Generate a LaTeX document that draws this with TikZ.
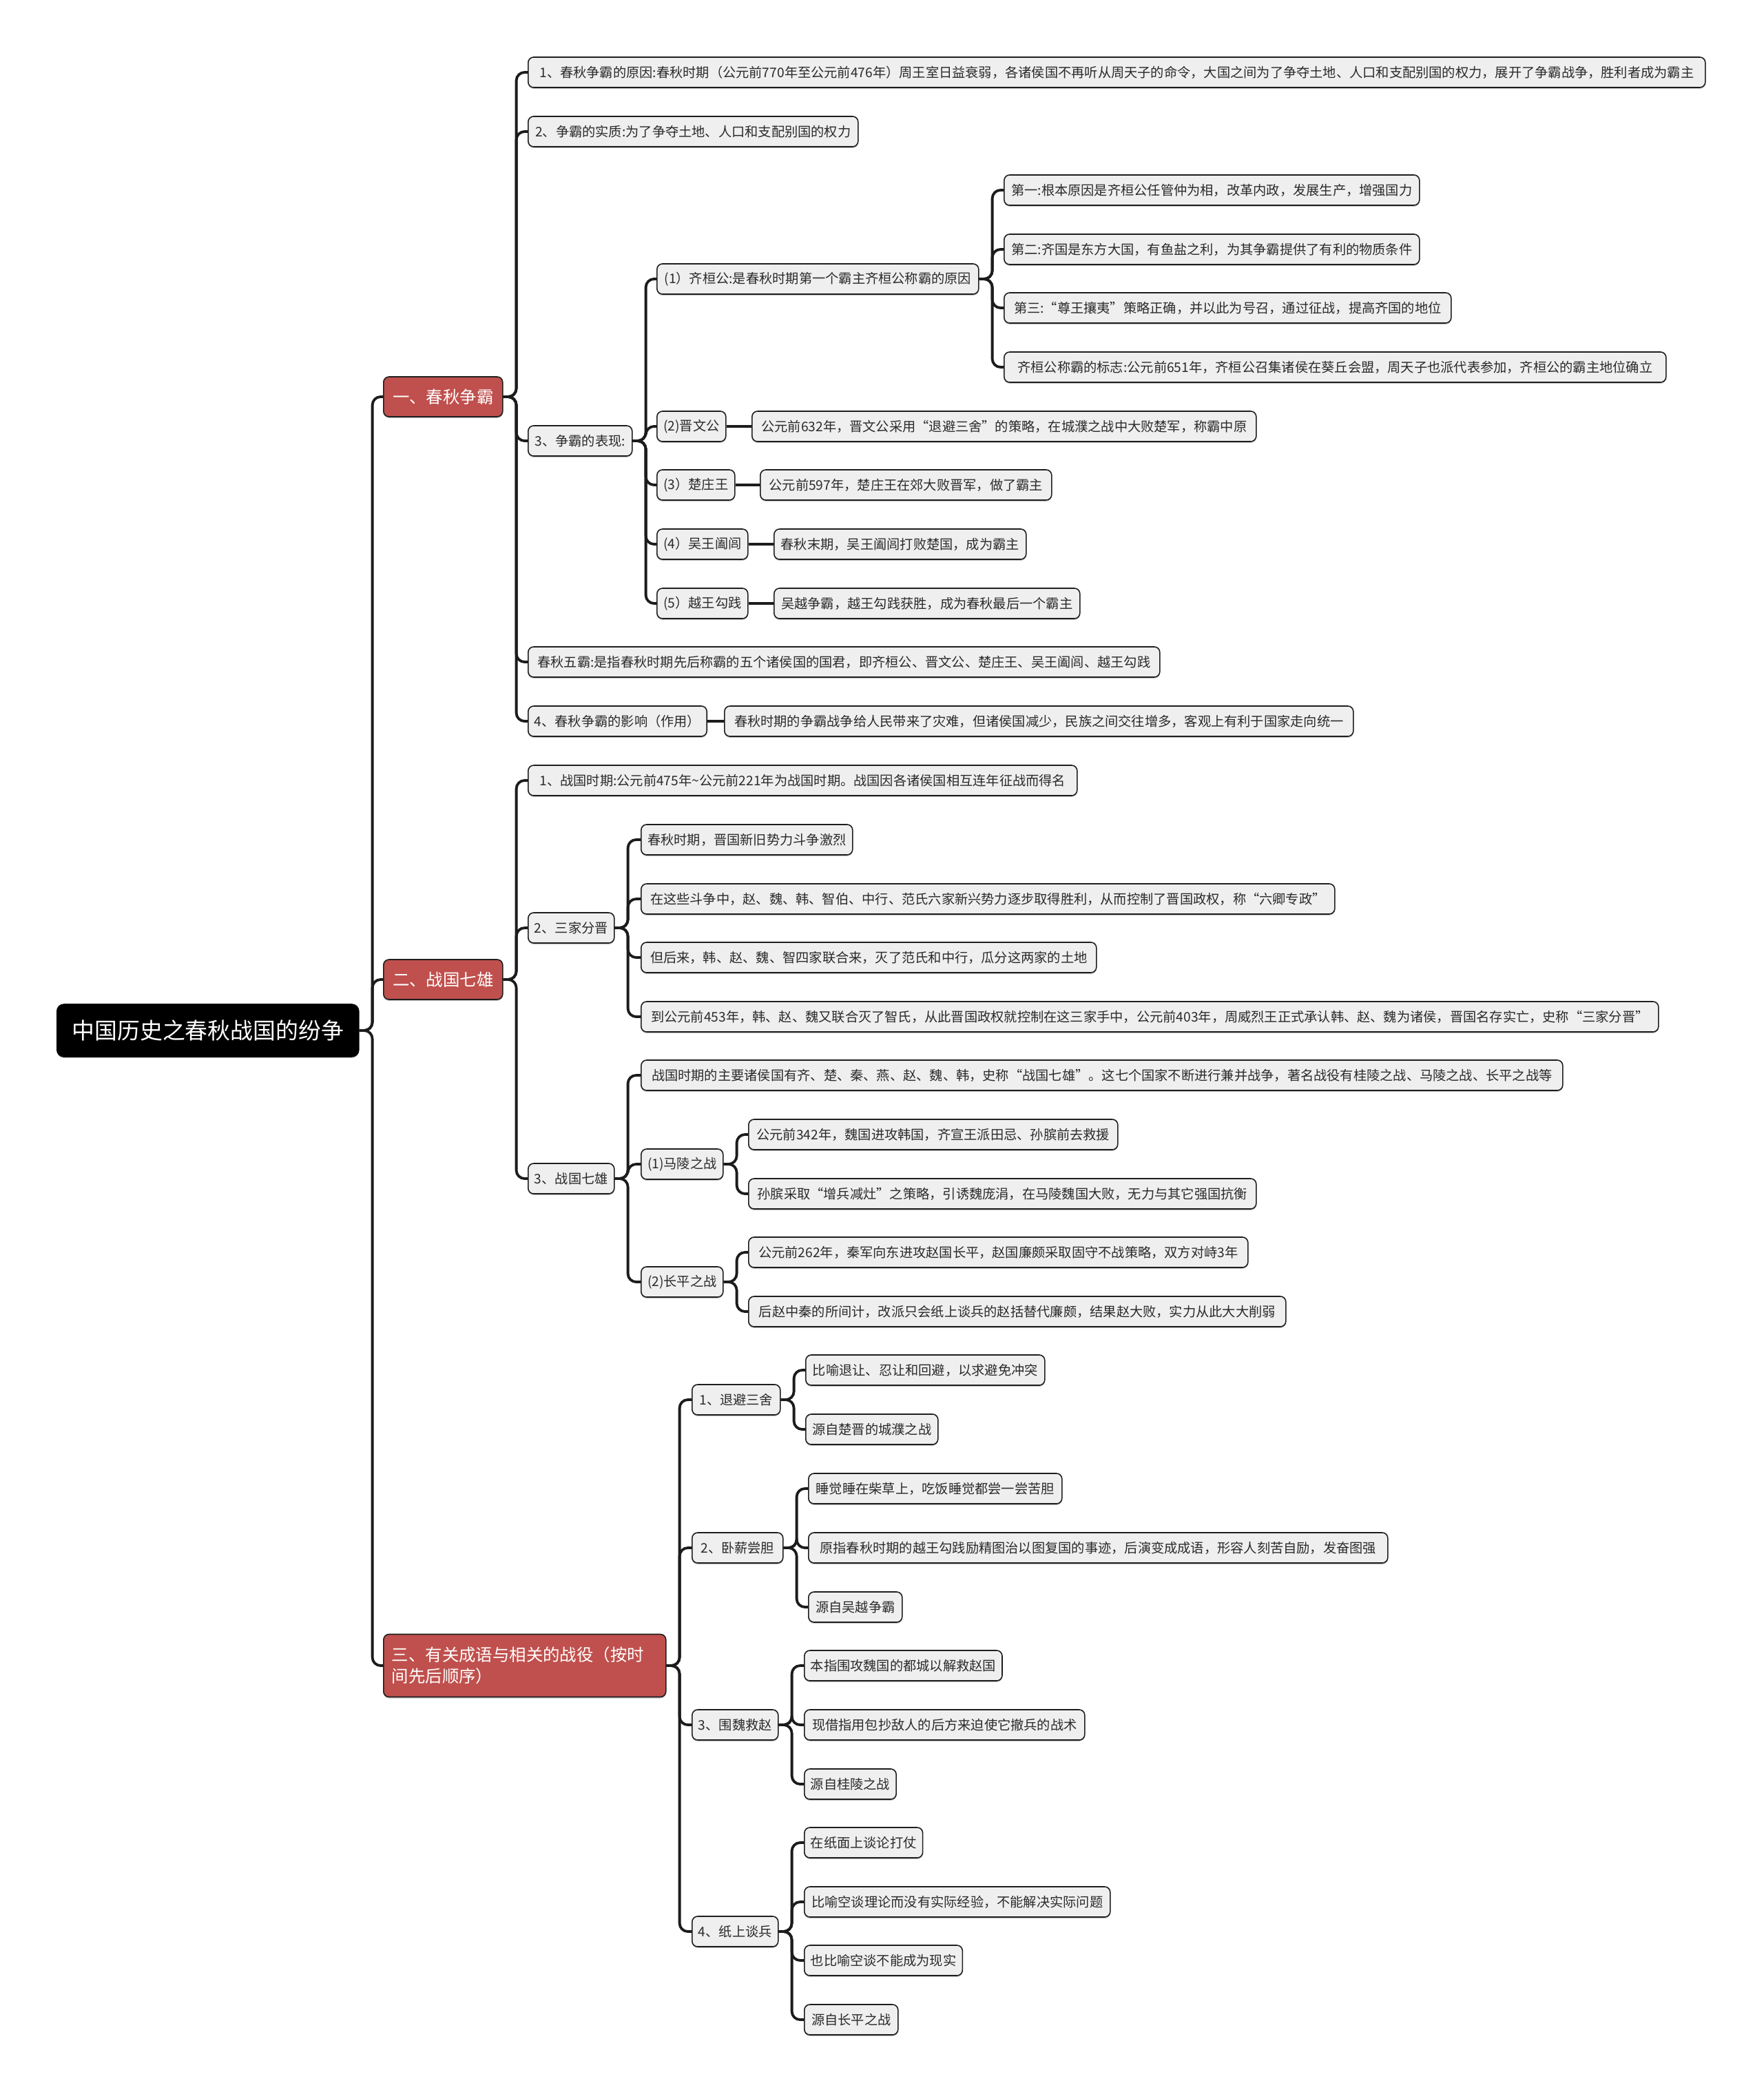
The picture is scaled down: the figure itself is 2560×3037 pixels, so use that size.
\documentclass[tikz,border=0pt]{standalone}
\usepackage{fontspec}
\setmainfont{Noto Sans CJK SC}
\usetikzlibrary{shadows}
\definecolor{nfill}{HTML}{EFEFEF}
\definecolor{nline}{HTML}{1E1E1E}
\definecolor{ntext}{HTML}{2A2A2A}
\definecolor{redfill}{HTML}{C0504D}
\definecolor{cline}{HTML}{1C1C1C}
\newcommand\mmlink[2]{\draw[conn] (#1.east) -- ([xshift=19bp]#1.east) |- (#2.west);}
\begin{document}
\begin{tikzpicture}[x=1bp,y=-1bp,
  nd/.style={draw=nline, line width=1.6bp, fill=nfill, rounded corners=8bp,
    text=ntext, font=\fontsize{19.3}{23}\selectfont, minimum height=44bp,
    inner xsep=9bp, inner ysep=0bp, anchor=west,
    drop shadow={shadow xshift=0bp, shadow yshift=-2bp, opacity=0.22, fill=black}},
  rednd/.style={nd, fill=redfill, text=white, font=\fontsize{24.5}{31}\selectfont,
    minimum height=58bp, inner xsep=12bp},
  rootnd/.style={nd, fill=black, draw=black, text=white, font=\fontsize{33}{40}\selectfont,
    minimum height=76bp, rounded corners=10bp, inner xsep=20bp},
  conn/.style={draw=cline, line width=3.8bp, rounded corners=12bp}]
\fill[white] (0,0) rectangle (2560,3037);
\useasboundingbox (0,0) rectangle (2560,3037);

% root and main branches
\node[rootnd, minimum width=438bp] (root) at (82,1496) {中国历史之春秋战国的纷争};
\node[rednd, minimum width=173bp] (A1) at (556,576) {一、春秋争霸};
\node[rednd, minimum width=173bp] (A2) at (556,1422) {二、战国七雄};
\node[rednd, text width=386bp, align=left, minimum height=91bp] (A3) at (556,2418) {三、有关成语与相关的战役（按时\\间先后顺序）};

% branch 1
\node[nd, minimum width=1709bp] (B1) at (766,105) {1、春秋争霸的原因:春秋时期（公元前770年至公元前476年）周王室日益衰弱，各诸侯国不再听从周天子的命令，大国之间为了争夺土地、人口和支配别国的权力，展开了争霸战争，胜利者成为霸主};
\node[nd, minimum width=479bp] (B2) at (766,191) {2、争霸的实质:为了争夺土地、人口和支配别国的权力};
\node[nd, minimum width=151bp] (B3) at (766,640) {3、争霸的表现:};
\node[nd, minimum width=917bp] (B4) at (766,961) {春秋五霸:是指春秋时期先后称霸的五个诸侯国的国君，即齐桓公、晋文公、楚庄王、吴王阖闾、越王勾践};
\node[nd, minimum width=247bp] (B5) at (766,1047) {4、春秋争霸的影响（作用）};
\node[nd, minimum width=913bp] (B5c) at (1051,1047) {春秋时期的争霸战争给人民带来了灾难，但诸侯国减少，民族之间交往增多，客观上有利于国家走向统一};

\node[nd, minimum width=467bp] (C1) at (953,405) {(1）齐桓公:是春秋时期第一个霸主齐桓公称霸的原因};
\node[nd, minimum width=603bp] (D1) at (1457,276) {第一:根本原因是齐桓公任管仲为相，改革内政，发展生产，增强国力};
\node[nd, minimum width=603bp] (D2) at (1457,362) {第二:齐国是东方大国，有鱼盐之利，为其争霸提供了有利的物质条件};
\node[nd, minimum width=649bp] (D3) at (1457,447) {第三:“尊王攘夷”策略正确，并以此为号召，通过征战，提高齐国的地位};
\node[nd, minimum width=961bp] (D4) at (1457,533) {齐桓公称霸的标志:公元前651年，齐桓公召集诸侯在葵丘会盟，周天子也派代表参加，齐桓公的霸主地位确立};
\node[nd, minimum width=100bp] (C2) at (953,619) {(2)晋文公};
\node[nd, minimum width=732bp] (C2c) at (1091,619) {公元前632年，晋文公采用“退避三舍”的策略，在城濮之战中大败楚军，称霸中原};
\node[nd, minimum width=113bp] (C3) at (953,704) {(3）楚庄王};
\node[nd, minimum width=423bp] (C3c) at (1103,704) {公元前597年，楚庄王在郊大败晋军，做了霸主};
\node[nd, minimum width=132bp] (C4) at (953,790) {(4）吴王阖闾};
\node[nd, minimum width=366bp] (C4c) at (1123,790) {春秋末期，吴王阖闾打败楚国，成为霸主};
\node[nd, minimum width=132bp] (C5) at (953,876) {(5）越王勾践};
\node[nd, minimum width=444bp] (C5c) at (1123,876) {吴越争霸，越王勾践获胜，成为春秋最后一个霸主};

% branch 2
\node[nd, minimum width=797bp] (B6) at (766,1133) {1、战国时期:公元前475年\textasciitilde 公元前221年为战国时期。战国因各诸侯国相互连年征战而得名};
\node[nd, minimum width=125bp] (B7) at (766,1347) {2、三家分晋};
\node[nd, minimum width=307bp] (E1) at (930,1219) {春秋时期，晋国新旧势力斗争激烈};
\node[nd, minimum width=1007bp] (E2) at (930,1305) {在这些斗争中，赵、魏、韩、智伯、中行、范氏六家新兴势力逐步取得胜利，从而控制了晋国政权，称“六卿专政”};
\node[nd, minimum width=661bp] (E3) at (930,1390) {但后来，韩、赵、魏、智四家联合来，灭了范氏和中行，瓜分这两家的土地};
\node[nd, minimum width=1477bp] (E4) at (930,1476) {到公元前453年，韩、赵、魏又联合灭了智氏，从此晋国政权就控制在这三家手中，公元前403年，周威烈王正式承认韩、赵、魏为诸侯，晋国名存实亡，史称“三家分晋”};
\node[nd, minimum width=125bp] (B8) at (766,1711) {3、战国七雄};
\node[nd, minimum width=1338bp] (F1) at (930,1561) {战国时期的主要诸侯国有齐、楚、秦、燕、赵、魏、韩，史称“战国七雄”。这七个国家不断进行兼并战争，著名战役有桂陵之战、马陵之战、长平之战等};
\node[nd, minimum width=119bp] (F2) at (930,1690) {(1)马陵之战};
\node[nd, minimum width=536bp] (G1) at (1086,1647) {公元前342年，魏国进攻韩国，齐宣王派田忌、孙膑前去救援};
\node[nd, minimum width=737bp] (G2) at (1086,1733) {孙膑采取“增兵减灶”之策略，引诱魏庞涓，在马陵魏国大败，无力与其它强国抗衡};
\node[nd, minimum width=119bp] (F3) at (930,1861) {(2)长平之战};
\node[nd, minimum width=725bp] (G3) at (1086,1818) {公元前262年，秦军向东进攻赵国长平，赵国廉颇采取固守不战策略，双方对峙3年};
\node[nd, minimum width=780bp] (G4) at (1086,1904) {后赵中秦的所间计，改派只会纸上谈兵的赵括替代廉颇，结果赵大败，实力从此大大削弱};

% branch 3
\node[nd, minimum width=128bp] (H1) at (1004,2032) {1、退避三舍};
\node[nd, minimum width=347bp] (I1) at (1169,1989) {比喻退让、忍让和回避，以求避免冲突};
\node[nd, minimum width=192bp] (I2) at (1169,2075) {源自楚晋的城濮之战};
\node[nd, minimum width=132bp] (H2) at (1004,2247) {2、卧薪尝胆};
\node[nd, minimum width=368bp] (J1) at (1173,2161) {睡觉睡在柴草上，吃饭睡觉都尝一尝苦胆};
\node[nd, minimum width=841bp] (J2) at (1173,2247) {原指春秋时期的越王勾践励精图治以图复国的事迹，后演变成成语，形容人刻苦自励，发奋图强};
\node[nd, minimum width=136bp] (J3) at (1173,2333) {源自吴越争霸};
\node[nd, minimum width=125bp] (H3) at (1004,2504) {3、围魏救赵};
\node[nd, minimum width=285bp] (K1) at (1167,2418) {本指围攻魏国的都城以解救赵国};
\node[nd, minimum width=407bp] (K2) at (1167,2504) {现借指用包抄敌人的后方来迫使它撤兵的战术};
\node[nd, minimum width=132bp] (K3) at (1167,2590) {源自桂陵之战};
\node[nd, minimum width=125bp] (H4) at (1004,2804) {4、纸上谈兵};
\node[nd, minimum width=171bp] (L1) at (1167,2675) {在纸面上谈论打仗};
\node[nd, minimum width=444bp] (L2) at (1167,2761) {比喻空谈理论而没有实际经验，不能解决实际问题};
\node[nd, minimum width=229bp] (L3) at (1167,2846) {也比喻空谈不能成为现实};
\node[nd, minimum width=136bp] (L4) at (1167,2932) {源自长平之战};

% connectors
\mmlink{root}{A1}\mmlink{root}{A2}\mmlink{root}{A3}
\mmlink{A1}{B1}\mmlink{A1}{B2}\mmlink{A1}{B3}\mmlink{A1}{B4}\mmlink{A1}{B5}
\draw[conn] (B5.east) -- (B5c.west);
\mmlink{B3}{C1}\mmlink{B3}{C2}\mmlink{B3}{C3}\mmlink{B3}{C4}\mmlink{B3}{C5}
\mmlink{C1}{D1}\mmlink{C1}{D2}\mmlink{C1}{D3}\mmlink{C1}{D4}
\draw[conn] (C2.east) -- (C2c.west);
\draw[conn] (C3.east) -- (C3c.west);
\draw[conn] (C4.east) -- (C4c.west);
\draw[conn] (C5.east) -- (C5c.west);
\mmlink{A2}{B6}\mmlink{A2}{B7}\mmlink{A2}{B8}
\mmlink{B7}{E1}\mmlink{B7}{E2}\mmlink{B7}{E3}\mmlink{B7}{E4}
\mmlink{B8}{F1}\mmlink{B8}{F2}\mmlink{B8}{F3}
\mmlink{F2}{G1}\mmlink{F2}{G2}
\mmlink{F3}{G3}\mmlink{F3}{G4}
\mmlink{A3}{H1}\mmlink{A3}{H2}\mmlink{A3}{H3}\mmlink{A3}{H4}
\mmlink{H1}{I1}\mmlink{H1}{I2}
\mmlink{H2}{J1}\mmlink{H2}{J2}\mmlink{H2}{J3}
\mmlink{H3}{K1}\mmlink{H3}{K2}\mmlink{H3}{K3}
\mmlink{H4}{L1}\mmlink{H4}{L2}\mmlink{H4}{L3}\mmlink{H4}{L4}
\end{tikzpicture}
\end{document}
